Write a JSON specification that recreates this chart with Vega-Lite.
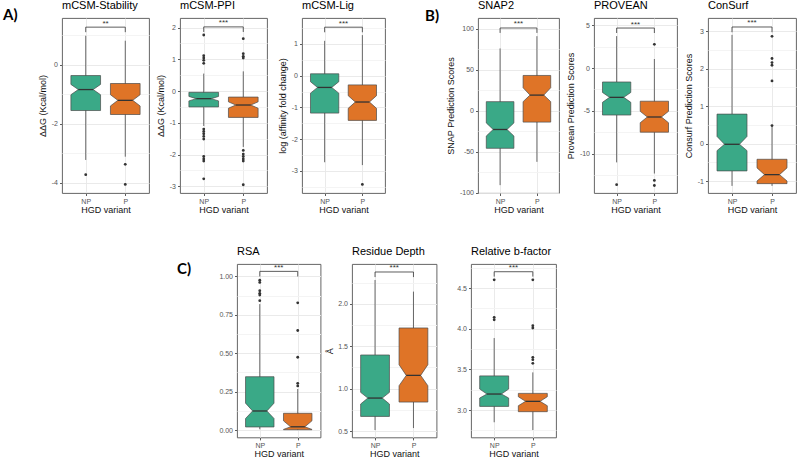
{
"$schema":"https://vega.github.io/schema/vega-lite/v6.json",
"padding":{"left":0,"top":-1,"right":0,"bottom":0},
"background":"white",
"spacing":30,
"config":{
 "view":{"stroke":"#555","strokeWidth":0.9},
 "title":{"font":"Liberation Sans","fontSize":11,"fontWeight":"normal","anchor":"start","frame":"group","baseline":"alphabetic","offset":7,"color":"#000"},
 "axis":{"domain":false,"labelFont":"Liberation Sans","labelFontSize":7,"labelColor":"#555","titleFont":"Liberation Sans","titleFontSize":9,"titleFontWeight":"normal","titleColor":"#111","tickColor":"#333","tickSize":2.5,"tickWidth":0.8,"gridColor":"#e8e8e8","gridWidth":0.9,"labelPadding":1.5,"labelOverlap":false,"tickCount":50},
 "axisX":{"titlePadding":1},
 "axisY":{"titlePadding":3.5,"labelPadding":2}
},
"datasets":{
 "boxes":[
  {"panel":"A1","group":"NP","lo":-3.23,"q1":-1.555,"nlo":-1.02,"med":-0.845,"nhi":-0.67,"q3":-0.37,"hi":0.98},
  {"panel":"A1","group":"P","lo":-3.12,"q1":-1.69,"nlo":-1.40,"med":-1.21,"nhi":-1.02,"q3":-0.64,"hi":0.81},
  {"panel":"A2","group":"NP","lo":-1.10,"q1":-0.50,"nlo":-0.31,"med":-0.24,"nhi":-0.17,"q3":-0.04,"hi":0.55},
  {"panel":"A2","group":"P","lo":-1.76,"q1":-0.83,"nlo":-0.54,"med":-0.44,"nhi":-0.34,"q3":-0.19,"hi":0.62},
  {"panel":"A3","group":"NP","lo":-2.73,"q1":-1.18,"nlo":-0.55,"med":-0.37,"nhi":-0.19,"q3":0.06,"hi":1.10},
  {"panel":"A3","group":"P","lo":-2.82,"q1":-1.41,"nlo":-1.03,"med":-0.83,"nhi":-0.63,"q3":-0.29,"hi":1.28},
  {"panel":"B1","group":"NP","lo":-91,"q1":-46,"nlo":-31,"med":-23,"nhi":-15,"q3":11,"hi":76},
  {"panel":"B1","group":"P","lo":-62.5,"q1":-14,"nlo":11,"med":19,"nhi":28,"q3":43,"hi":91},
  {"panel":"B2","group":"NP","lo":-11.0,"q1":-5.48,"nlo":-4.0,"med":-3.42,"nhi":-2.85,"q3":-1.63,"hi":3.72},
  {"panel":"B2","group":"P","lo":-12.3,"q1":-7.48,"nlo":-6.38,"med":-5.71,"nhi":-5.05,"q3":-3.87,"hi":1.05},
  {"panel":"B3","group":"NP","lo":-1.13,"q1":-0.73,"nlo":-0.19,"med":-0.02,"nhi":0.19,"q3":0.785,"hi":2.9},
  {"panel":"B3","group":"P","lo":-1.13,"q1":-1.07,"nlo":-1.0,"med":-0.83,"nhi":-0.65,"q3":-0.42,"hi":0.47},
  {"panel":"C1","group":"NP","lo":0.005,"q1":0.02,"nlo":0.075,"med":0.124,"nhi":0.175,"q3":0.347,"hi":0.82},
  {"panel":"C1","group":"P","lo":0.0,"q1":0.002,"nlo":0.004,"med":0.021,"nhi":0.06,"q3":0.109,"hi":0.267},
  {"panel":"C2","group":"NP","lo":0.513,"q1":0.674,"nlo":0.82,"med":0.89,"nhi":0.957,"q3":1.397,"hi":2.28},
  {"panel":"C2","group":"P","lo":0.537,"q1":0.843,"nlo":1.035,"med":1.157,"nhi":1.283,"q3":1.715,"hi":2.143},
  {"panel":"C3","group":"NP","lo":2.85,"q1":3.045,"nlo":3.148,"med":3.197,"nhi":3.258,"q3":3.42,"hi":3.885},
  {"panel":"C3","group":"P","lo":2.754,"q1":2.98,"nlo":3.053,"med":3.107,"nhi":3.164,"q3":3.205,"hi":3.463}
 ],
 "outliers":[
  {"panel":"A1","group":"NP","value":-3.73},
  {"panel":"A1","group":"P","value":-3.38},
  {"panel":"A1","group":"P","value":-4.06},
  {"panel":"A2","group":"NP","value":1.765},
  {"panel":"A2","group":"NP","value":1.113},
  {"panel":"A2","group":"NP","value":1.04},
  {"panel":"A2","group":"NP","value":0.966},
  {"panel":"A2","group":"NP","value":0.872},
  {"panel":"A2","group":"NP","value":-1.197},
  {"panel":"A2","group":"NP","value":-1.271},
  {"panel":"A2","group":"NP","value":-1.345},
  {"panel":"A2","group":"NP","value":-1.429},
  {"panel":"A2","group":"NP","value":-1.513},
  {"panel":"A2","group":"NP","value":-2.06},
  {"panel":"A2","group":"NP","value":-2.136},
  {"panel":"A2","group":"NP","value":-2.206},
  {"panel":"A2","group":"NP","value":-2.763},
  {"panel":"A2","group":"P","value":1.649},
  {"panel":"A2","group":"P","value":1.176},
  {"panel":"A2","group":"P","value":1.092},
  {"panel":"A2","group":"P","value":1.04},
  {"panel":"A2","group":"P","value":-1.87},
  {"panel":"A2","group":"P","value":-1.985},
  {"panel":"A2","group":"P","value":-2.06},
  {"panel":"A2","group":"P","value":-2.136},
  {"panel":"A2","group":"P","value":-2.206},
  {"panel":"A2","group":"P","value":-2.95},
  {"panel":"A3","group":"P","value":-3.43},
  {"panel":"B2","group":"NP","value":-13.6},
  {"panel":"B2","group":"P","value":2.76},
  {"panel":"B2","group":"P","value":-13.1},
  {"panel":"B2","group":"P","value":-13.7},
  {"panel":"B3","group":"P","value":2.86},
  {"panel":"B3","group":"P","value":2.27},
  {"panel":"B3","group":"P","value":2.16},
  {"panel":"B3","group":"P","value":2.09},
  {"panel":"B3","group":"P","value":1.67},
  {"panel":"B3","group":"P","value":0.48},
  {"panel":"C1","group":"NP","value":0.976},
  {"panel":"C1","group":"NP","value":0.961},
  {"panel":"C1","group":"NP","value":0.907},
  {"panel":"C1","group":"NP","value":0.89},
  {"panel":"C1","group":"NP","value":0.879},
  {"panel":"C1","group":"NP","value":0.842},
  {"panel":"C1","group":"P","value":0.828},
  {"panel":"C1","group":"P","value":0.648},
  {"panel":"C1","group":"P","value":0.474},
  {"panel":"C1","group":"P","value":0.304},
  {"panel":"C1","group":"P","value":0.287},
  {"panel":"C3","group":"NP","value":4.60},
  {"panel":"C3","group":"NP","value":4.14},
  {"panel":"C3","group":"NP","value":4.11},
  {"panel":"C3","group":"P","value":4.60},
  {"panel":"C3","group":"P","value":4.037},
  {"panel":"C3","group":"P","value":4.008},
  {"panel":"C3","group":"P","value":3.648},
  {"panel":"C3","group":"P","value":3.619},
  {"panel":"C3","group":"P","value":3.574}
 ],
 "signif":[
  {"panel":"A1","y":1.27,"tip":1.10,"label":"**"},
  {"panel":"A2","y":2.02,"tip":1.86,"label":"***"},
  {"panel":"A3","y":1.53,"tip":1.37,"label":"***"},
  {"panel":"B1","y":101,"tip":95,"label":"***"},
  {"panel":"B2","y":4.66,"tip":4.08,"label":"***"},
  {"panel":"B3","y":3.11,"tip":2.97,"label":"***"},
  {"panel":"C1","y":1.033,"tip":1.0,"label":"***"},
  {"panel":"C2","y":2.374,"tip":2.314,"label":"***"},
  {"panel":"C3","y":4.70,"tip":4.64,"label":"***"}
 ]
},
"vconcat":[
{"bounds":"flush","spacing":0,"hconcat":[
 {"width":62,"height":1,"view":{"stroke":null},"title":{"text":"A)","dx":3,"offset":-5,"font":"Lato","fontSize":15,"fontWeight":"bold"},"data":{"values":[]},"mark":"point"},
 {"width":87,"height":175,"title":"mCSM-Stability","layer":[
  {"data":{"name":"boxes"},"transform":[{"filter":"datum.panel === 'A1'"},{"calculate":"datum.group === 'NP' ? 1 : 2","as":"xc"}],"mark":{"type":"rule","color":"#444","strokeWidth":0.8},"encoding":{"x":{"field":"xc","type":"quantitative","scale":{"domain":[0.4,2.6],"nice":false,"zero":false},"axis":{"title":"HGD variant","values":[1,2],"labelExpr":"datum.value === 1 ? 'NP' : 'P'"}},"y":{"field":"lo","type":"quantitative","scale":{"domain":[-4.35,1.58],"nice":false,"zero":false},"axis":{"title":"ΔΔG (Kcal/mol)","tickCount":50,"values":[-4,-3,-2,-1,0,1],"labelExpr":"datum.value % 2 === 0 ? '' + datum.value : ''","tickOpacity":{"condition":{"test":"datum.value % 2 !== 0","value":0},"value":1},"gridColor":{"condition":{"test":"datum.value % 2 !== 0","value":"#f3f3f3"},"value":"#e8e8e8"}}},"y2":{"field":"hi"}}},
  {"data":{"name":"boxes"},"transform":[{"filter":"datum.panel === 'A1'"},{"fold":["q1","nlo","med","nhi","q3"],"as":["stat","v"]},{"calculate":"(datum.group === 'NP' ? 1 : 2) - (datum.stat === 'med' ? 0.1875 : 0.375)","as":"xl"},{"calculate":"(datum.group === 'NP' ? 1 : 2) + (datum.stat === 'med' ? 0.1875 : 0.375)","as":"xr"}],"mark":{"type":"area","orient":"horizontal","stroke":"#4a4a4a","strokeWidth":0.7,"opacity":1,"fillOpacity":1},"encoding":{"y":{"field":"v","type":"quantitative"},"x":{"field":"xl","type":"quantitative","stack":null},"x2":{"field":"xr"},"color":{"field":"group","type":"nominal","scale":{"domain":["NP","P"],"range":["#3aa987","#df7427"]},"legend":null}}},
  {"data":{"name":"boxes"},"transform":[{"filter":"datum.panel === 'A1'"},{"calculate":"(datum.group === 'NP' ? 1 : 2) - 0.1875","as":"ml"},{"calculate":"(datum.group === 'NP' ? 1 : 2) + 0.1875","as":"mr"}],"mark":{"type":"rule","color":"#333","strokeWidth":1.3},"encoding":{"x":{"field":"ml","type":"quantitative"},"x2":{"field":"mr"},"y":{"field":"med","type":"quantitative"}}},
  {"data":{"name":"outliers"},"transform":[{"filter":"datum.panel === 'A1'"},{"calculate":"datum.group === 'NP' ? 1 : 2","as":"xc"}],"mark":{"type":"point","filled":true,"size":8,"color":"#333","opacity":1},"encoding":{"x":{"field":"xc","type":"quantitative"},"y":{"field":"value","type":"quantitative"}}},
  {"data":{"name":"signif"},"transform":[{"filter":"datum.panel === 'A1'"}],"mark":{"type":"rule","color":"#333","strokeWidth":0.8},"encoding":{"x":{"datum":1,"type":"quantitative"},"x2":{"datum":2},"y":{"field":"y","type":"quantitative"}}},
  {"data":{"name":"signif"},"transform":[{"filter":"datum.panel === 'A1'"}],"mark":{"type":"rule","color":"#333","strokeWidth":0.8},"encoding":{"x":{"datum":1,"type":"quantitative"},"y":{"field":"y","type":"quantitative"},"y2":{"field":"tip"}}},
  {"data":{"name":"signif"},"transform":[{"filter":"datum.panel === 'A1'"}],"mark":{"type":"rule","color":"#333","strokeWidth":0.8},"encoding":{"x":{"datum":2,"type":"quantitative"},"y":{"field":"y","type":"quantitative"},"y2":{"field":"tip"}}},
  {"data":{"name":"signif"},"transform":[{"filter":"datum.panel === 'A1'"}],"mark":{"type":"text","baseline":"alphabetic","dy":-1.5,"fontSize":8,"color":"#333","font":"Liberation Sans"},"encoding":{"x":{"datum":1.5,"type":"quantitative"},"y":{"field":"y","type":"quantitative"},"text":{"field":"label"}}}
 ]},
 {"width":31,"height":1,"view":{"stroke":null},"data":{"values":[]},"mark":"point"},
 {"width":87,"height":175,"title":"mCSM-PPI","layer":[
  {"data":{"name":"boxes"},"transform":[{"filter":"datum.panel === 'A2'"},{"calculate":"datum.group === 'NP' ? 1 : 2","as":"xc"}],"mark":{"type":"rule","color":"#444","strokeWidth":0.8},"encoding":{"x":{"field":"xc","type":"quantitative","scale":{"domain":[0.4,2.6],"nice":false,"zero":false},"axis":{"title":"HGD variant","values":[1,2],"labelExpr":"datum.value === 1 ? 'NP' : 'P'"}},"y":{"field":"lo","type":"quantitative","scale":{"domain":[-3.21,2.30],"nice":false,"zero":false},"axis":{"title":"ΔΔG (Kcal/mol)","tickCount":50,"values":[-3,-2.5,-2,-1.5,-1,-0.5,0,0.5,1,1.5,2],"labelExpr":"datum.value % 1 === 0 ? '' + datum.value : ''","tickOpacity":{"condition":{"test":"datum.value % 1 !== 0","value":0},"value":1},"gridColor":{"condition":{"test":"datum.value % 1 !== 0","value":"#f3f3f3"},"value":"#e8e8e8"}}},"y2":{"field":"hi"}}},
  {"data":{"name":"boxes"},"transform":[{"filter":"datum.panel === 'A2'"},{"fold":["q1","nlo","med","nhi","q3"],"as":["stat","v"]},{"calculate":"(datum.group === 'NP' ? 1 : 2) - (datum.stat === 'med' ? 0.1875 : 0.375)","as":"xl"},{"calculate":"(datum.group === 'NP' ? 1 : 2) + (datum.stat === 'med' ? 0.1875 : 0.375)","as":"xr"}],"mark":{"type":"area","orient":"horizontal","stroke":"#4a4a4a","strokeWidth":0.7,"opacity":1,"fillOpacity":1},"encoding":{"y":{"field":"v","type":"quantitative"},"x":{"field":"xl","type":"quantitative","stack":null},"x2":{"field":"xr"},"color":{"field":"group","type":"nominal","scale":{"domain":["NP","P"],"range":["#3aa987","#df7427"]},"legend":null}}},
  {"data":{"name":"boxes"},"transform":[{"filter":"datum.panel === 'A2'"},{"calculate":"(datum.group === 'NP' ? 1 : 2) - 0.1875","as":"ml"},{"calculate":"(datum.group === 'NP' ? 1 : 2) + 0.1875","as":"mr"}],"mark":{"type":"rule","color":"#333","strokeWidth":1.3},"encoding":{"x":{"field":"ml","type":"quantitative"},"x2":{"field":"mr"},"y":{"field":"med","type":"quantitative"}}},
  {"data":{"name":"outliers"},"transform":[{"filter":"datum.panel === 'A2'"},{"calculate":"datum.group === 'NP' ? 1 : 2","as":"xc"}],"mark":{"type":"point","filled":true,"size":8,"color":"#333","opacity":1},"encoding":{"x":{"field":"xc","type":"quantitative"},"y":{"field":"value","type":"quantitative"}}},
  {"data":{"name":"signif"},"transform":[{"filter":"datum.panel === 'A2'"}],"mark":{"type":"rule","color":"#333","strokeWidth":0.8},"encoding":{"x":{"datum":1,"type":"quantitative"},"x2":{"datum":2},"y":{"field":"y","type":"quantitative"}}},
  {"data":{"name":"signif"},"transform":[{"filter":"datum.panel === 'A2'"}],"mark":{"type":"rule","color":"#333","strokeWidth":0.8},"encoding":{"x":{"datum":1,"type":"quantitative"},"y":{"field":"y","type":"quantitative"},"y2":{"field":"tip"}}},
  {"data":{"name":"signif"},"transform":[{"filter":"datum.panel === 'A2'"}],"mark":{"type":"rule","color":"#333","strokeWidth":0.8},"encoding":{"x":{"datum":2,"type":"quantitative"},"y":{"field":"y","type":"quantitative"},"y2":{"field":"tip"}}},
  {"data":{"name":"signif"},"transform":[{"filter":"datum.panel === 'A2'"}],"mark":{"type":"text","baseline":"alphabetic","dy":-1.5,"fontSize":8,"color":"#333","font":"Liberation Sans"},"encoding":{"x":{"datum":1.5,"type":"quantitative"},"y":{"field":"y","type":"quantitative"},"text":{"field":"label"}}}
 ]},
 {"width":35,"height":1,"view":{"stroke":null},"data":{"values":[]},"mark":"point"},
 {"width":83,"height":175,"title":"mCSM-Lig","layer":[
  {"data":{"name":"boxes"},"transform":[{"filter":"datum.panel === 'A3'"},{"calculate":"datum.group === 'NP' ? 1 : 2","as":"xc"}],"mark":{"type":"rule","color":"#444","strokeWidth":0.8},"encoding":{"x":{"field":"xc","type":"quantitative","scale":{"domain":[0.4,2.6],"nice":false,"zero":false},"axis":{"title":"HGD variant","values":[1,2],"labelExpr":"datum.value === 1 ? 'NP' : 'P'"}},"y":{"field":"lo","type":"quantitative","scale":{"domain":[-3.70,1.82],"nice":false,"zero":false},"axis":{"title":"log (affinity fold change)","tickCount":50,"values":[-3.5,-3,-2.5,-2,-1.5,-1,-0.5,0,0.5,1,1.5],"labelExpr":"datum.value % 1 === 0 ? '' + datum.value : ''","tickOpacity":{"condition":{"test":"datum.value % 1 !== 0","value":0},"value":1},"gridColor":{"condition":{"test":"datum.value % 1 !== 0","value":"#f3f3f3"},"value":"#e8e8e8"}}},"y2":{"field":"hi"}}},
  {"data":{"name":"boxes"},"transform":[{"filter":"datum.panel === 'A3'"},{"fold":["q1","nlo","med","nhi","q3"],"as":["stat","v"]},{"calculate":"(datum.group === 'NP' ? 1 : 2) - (datum.stat === 'med' ? 0.1875 : 0.375)","as":"xl"},{"calculate":"(datum.group === 'NP' ? 1 : 2) + (datum.stat === 'med' ? 0.1875 : 0.375)","as":"xr"}],"mark":{"type":"area","orient":"horizontal","stroke":"#4a4a4a","strokeWidth":0.7,"opacity":1,"fillOpacity":1},"encoding":{"y":{"field":"v","type":"quantitative"},"x":{"field":"xl","type":"quantitative","stack":null},"x2":{"field":"xr"},"color":{"field":"group","type":"nominal","scale":{"domain":["NP","P"],"range":["#3aa987","#df7427"]},"legend":null}}},
  {"data":{"name":"boxes"},"transform":[{"filter":"datum.panel === 'A3'"},{"calculate":"(datum.group === 'NP' ? 1 : 2) - 0.1875","as":"ml"},{"calculate":"(datum.group === 'NP' ? 1 : 2) + 0.1875","as":"mr"}],"mark":{"type":"rule","color":"#333","strokeWidth":1.3},"encoding":{"x":{"field":"ml","type":"quantitative"},"x2":{"field":"mr"},"y":{"field":"med","type":"quantitative"}}},
  {"data":{"name":"outliers"},"transform":[{"filter":"datum.panel === 'A3'"},{"calculate":"datum.group === 'NP' ? 1 : 2","as":"xc"}],"mark":{"type":"point","filled":true,"size":8,"color":"#333","opacity":1},"encoding":{"x":{"field":"xc","type":"quantitative"},"y":{"field":"value","type":"quantitative"}}},
  {"data":{"name":"signif"},"transform":[{"filter":"datum.panel === 'A3'"}],"mark":{"type":"rule","color":"#333","strokeWidth":0.8},"encoding":{"x":{"datum":1,"type":"quantitative"},"x2":{"datum":2},"y":{"field":"y","type":"quantitative"}}},
  {"data":{"name":"signif"},"transform":[{"filter":"datum.panel === 'A3'"}],"mark":{"type":"rule","color":"#333","strokeWidth":0.8},"encoding":{"x":{"datum":1,"type":"quantitative"},"y":{"field":"y","type":"quantitative"},"y2":{"field":"tip"}}},
  {"data":{"name":"signif"},"transform":[{"filter":"datum.panel === 'A3'"}],"mark":{"type":"rule","color":"#333","strokeWidth":0.8},"encoding":{"x":{"datum":2,"type":"quantitative"},"y":{"field":"y","type":"quantitative"},"y2":{"field":"tip"}}},
  {"data":{"name":"signif"},"transform":[{"filter":"datum.panel === 'A3'"}],"mark":{"type":"text","baseline":"alphabetic","dy":-1.5,"fontSize":8,"color":"#333","font":"Liberation Sans"},"encoding":{"x":{"datum":1.5,"type":"quantitative"},"y":{"field":"y","type":"quantitative"},"text":{"field":"label"}}}
 ]},
 {"width":93,"height":1,"view":{"stroke":null},"title":{"text":"B)","dx":40,"offset":-5.5,"font":"Lato","fontSize":15,"fontWeight":"bold"},"data":{"values":[]},"mark":"point"},
 {"width":81,"height":175,"title":"SNAP2","layer":[
  {"data":{"name":"boxes"},"transform":[{"filter":"datum.panel === 'B1'"},{"calculate":"datum.group === 'NP' ? 1 : 2","as":"xc"}],"mark":{"type":"rule","color":"#444","strokeWidth":0.8},"encoding":{"x":{"field":"xc","type":"quantitative","scale":{"domain":[0.4,2.6],"nice":false,"zero":false},"axis":{"title":"HGD variant","values":[1,2],"labelExpr":"datum.value === 1 ? 'NP' : 'P'"}},"y":{"field":"lo","type":"quantitative","scale":{"domain":[-100.6,113.2],"nice":false,"zero":false},"axis":{"title":"SNAP Prediction Scores","tickCount":50,"values":[-100,-75,-50,-25,0,25,50,75,100],"labelExpr":"datum.value % 50 === 0 ? '' + datum.value : ''","tickOpacity":{"condition":{"test":"datum.value % 50 !== 0","value":0},"value":1},"gridColor":{"condition":{"test":"datum.value % 50 !== 0","value":"#f3f3f3"},"value":"#e8e8e8"}}},"y2":{"field":"hi"}}},
  {"data":{"name":"boxes"},"transform":[{"filter":"datum.panel === 'B1'"},{"fold":["q1","nlo","med","nhi","q3"],"as":["stat","v"]},{"calculate":"(datum.group === 'NP' ? 1 : 2) - (datum.stat === 'med' ? 0.1875 : 0.375)","as":"xl"},{"calculate":"(datum.group === 'NP' ? 1 : 2) + (datum.stat === 'med' ? 0.1875 : 0.375)","as":"xr"}],"mark":{"type":"area","orient":"horizontal","stroke":"#4a4a4a","strokeWidth":0.7,"opacity":1,"fillOpacity":1},"encoding":{"y":{"field":"v","type":"quantitative"},"x":{"field":"xl","type":"quantitative","stack":null},"x2":{"field":"xr"},"color":{"field":"group","type":"nominal","scale":{"domain":["NP","P"],"range":["#3aa987","#df7427"]},"legend":null}}},
  {"data":{"name":"boxes"},"transform":[{"filter":"datum.panel === 'B1'"},{"calculate":"(datum.group === 'NP' ? 1 : 2) - 0.1875","as":"ml"},{"calculate":"(datum.group === 'NP' ? 1 : 2) + 0.1875","as":"mr"}],"mark":{"type":"rule","color":"#333","strokeWidth":1.3},"encoding":{"x":{"field":"ml","type":"quantitative"},"x2":{"field":"mr"},"y":{"field":"med","type":"quantitative"}}},
  {"data":{"name":"signif"},"transform":[{"filter":"datum.panel === 'B1'"}],"mark":{"type":"rule","color":"#333","strokeWidth":0.8},"encoding":{"x":{"datum":1,"type":"quantitative"},"x2":{"datum":2},"y":{"field":"y","type":"quantitative"}}},
  {"data":{"name":"signif"},"transform":[{"filter":"datum.panel === 'B1'"}],"mark":{"type":"rule","color":"#333","strokeWidth":0.8},"encoding":{"x":{"datum":1,"type":"quantitative"},"y":{"field":"y","type":"quantitative"},"y2":{"field":"tip"}}},
  {"data":{"name":"signif"},"transform":[{"filter":"datum.panel === 'B1'"}],"mark":{"type":"rule","color":"#333","strokeWidth":0.8},"encoding":{"x":{"datum":2,"type":"quantitative"},"y":{"field":"y","type":"quantitative"},"y2":{"field":"tip"}}},
  {"data":{"name":"signif"},"transform":[{"filter":"datum.panel === 'B1'"}],"mark":{"type":"text","baseline":"alphabetic","dy":-1.5,"fontSize":8,"color":"#333","font":"Liberation Sans"},"encoding":{"x":{"datum":1.5,"type":"quantitative"},"y":{"field":"y","type":"quantitative"},"text":{"field":"label"}}}
 ]},
 {"width":35,"height":1,"view":{"stroke":null},"data":{"values":[]},"mark":"point"},
 {"width":83,"height":175,"title":"PROVEAN","layer":[
  {"data":{"name":"boxes"},"transform":[{"filter":"datum.panel === 'B2'"},{"calculate":"datum.group === 'NP' ? 1 : 2","as":"xc"}],"mark":{"type":"rule","color":"#444","strokeWidth":0.8},"encoding":{"x":{"field":"xc","type":"quantitative","scale":{"domain":[0.4,2.6],"nice":false,"zero":false},"axis":{"title":"HGD variant","values":[1,2],"labelExpr":"datum.value === 1 ? 'NP' : 'P'"}},"y":{"field":"lo","type":"quantitative","scale":{"domain":[-14.57,5.83],"nice":false,"zero":false},"axis":{"title":"Provean Prediction Scores","tickCount":50,"values":[-12.5,-10,-7.5,-5,-2.5,0,2.5,5],"labelExpr":"datum.value % 5 === 0 ? '' + datum.value : ''","tickOpacity":{"condition":{"test":"datum.value % 5 !== 0","value":0},"value":1},"gridColor":{"condition":{"test":"datum.value % 5 !== 0","value":"#f3f3f3"},"value":"#e8e8e8"}}},"y2":{"field":"hi"}}},
  {"data":{"name":"boxes"},"transform":[{"filter":"datum.panel === 'B2'"},{"fold":["q1","nlo","med","nhi","q3"],"as":["stat","v"]},{"calculate":"(datum.group === 'NP' ? 1 : 2) - (datum.stat === 'med' ? 0.1875 : 0.375)","as":"xl"},{"calculate":"(datum.group === 'NP' ? 1 : 2) + (datum.stat === 'med' ? 0.1875 : 0.375)","as":"xr"}],"mark":{"type":"area","orient":"horizontal","stroke":"#4a4a4a","strokeWidth":0.7,"opacity":1,"fillOpacity":1},"encoding":{"y":{"field":"v","type":"quantitative"},"x":{"field":"xl","type":"quantitative","stack":null},"x2":{"field":"xr"},"color":{"field":"group","type":"nominal","scale":{"domain":["NP","P"],"range":["#3aa987","#df7427"]},"legend":null}}},
  {"data":{"name":"boxes"},"transform":[{"filter":"datum.panel === 'B2'"},{"calculate":"(datum.group === 'NP' ? 1 : 2) - 0.1875","as":"ml"},{"calculate":"(datum.group === 'NP' ? 1 : 2) + 0.1875","as":"mr"}],"mark":{"type":"rule","color":"#333","strokeWidth":1.3},"encoding":{"x":{"field":"ml","type":"quantitative"},"x2":{"field":"mr"},"y":{"field":"med","type":"quantitative"}}},
  {"data":{"name":"outliers"},"transform":[{"filter":"datum.panel === 'B2'"},{"calculate":"datum.group === 'NP' ? 1 : 2","as":"xc"}],"mark":{"type":"point","filled":true,"size":8,"color":"#333","opacity":1},"encoding":{"x":{"field":"xc","type":"quantitative"},"y":{"field":"value","type":"quantitative"}}},
  {"data":{"name":"signif"},"transform":[{"filter":"datum.panel === 'B2'"}],"mark":{"type":"rule","color":"#333","strokeWidth":0.8},"encoding":{"x":{"datum":1,"type":"quantitative"},"x2":{"datum":2},"y":{"field":"y","type":"quantitative"}}},
  {"data":{"name":"signif"},"transform":[{"filter":"datum.panel === 'B2'"}],"mark":{"type":"rule","color":"#333","strokeWidth":0.8},"encoding":{"x":{"datum":1,"type":"quantitative"},"y":{"field":"y","type":"quantitative"},"y2":{"field":"tip"}}},
  {"data":{"name":"signif"},"transform":[{"filter":"datum.panel === 'B2'"}],"mark":{"type":"rule","color":"#333","strokeWidth":0.8},"encoding":{"x":{"datum":2,"type":"quantitative"},"y":{"field":"y","type":"quantitative"},"y2":{"field":"tip"}}},
  {"data":{"name":"signif"},"transform":[{"filter":"datum.panel === 'B2'"}],"mark":{"type":"text","baseline":"alphabetic","dy":-1.5,"fontSize":8,"color":"#333","font":"Liberation Sans"},"encoding":{"x":{"datum":1.5,"type":"quantitative"},"y":{"field":"y","type":"quantitative"},"text":{"field":"label"}}}
 ]},
 {"width":31,"height":1,"view":{"stroke":null},"data":{"values":[]},"mark":"point"},
 {"width":88,"height":175,"title":"ConSurf","layer":[
  {"data":{"name":"boxes"},"transform":[{"filter":"datum.panel === 'B3'"},{"calculate":"datum.group === 'NP' ? 1 : 2","as":"xc"}],"mark":{"type":"rule","color":"#444","strokeWidth":0.8},"encoding":{"x":{"field":"xc","type":"quantitative","scale":{"domain":[0.4,2.6],"nice":false,"zero":false},"axis":{"title":"HGD variant","values":[1,2],"labelExpr":"datum.value === 1 ? 'NP' : 'P'"}},"y":{"field":"lo","type":"quantitative","scale":{"domain":[-1.32,3.35],"nice":false,"zero":false},"axis":{"title":"Consurf Prediction Scores","tickCount":50,"values":[-1,-0.5,0,0.5,1,1.5,2,2.5,3],"labelExpr":"datum.value % 1 === 0 ? '' + datum.value : ''","tickOpacity":{"condition":{"test":"datum.value % 1 !== 0","value":0},"value":1},"gridColor":{"condition":{"test":"datum.value % 1 !== 0","value":"#f3f3f3"},"value":"#e8e8e8"}}},"y2":{"field":"hi"}}},
  {"data":{"name":"boxes"},"transform":[{"filter":"datum.panel === 'B3'"},{"fold":["q1","nlo","med","nhi","q3"],"as":["stat","v"]},{"calculate":"(datum.group === 'NP' ? 1 : 2) - (datum.stat === 'med' ? 0.1875 : 0.375)","as":"xl"},{"calculate":"(datum.group === 'NP' ? 1 : 2) + (datum.stat === 'med' ? 0.1875 : 0.375)","as":"xr"}],"mark":{"type":"area","orient":"horizontal","stroke":"#4a4a4a","strokeWidth":0.7,"opacity":1,"fillOpacity":1},"encoding":{"y":{"field":"v","type":"quantitative"},"x":{"field":"xl","type":"quantitative","stack":null},"x2":{"field":"xr"},"color":{"field":"group","type":"nominal","scale":{"domain":["NP","P"],"range":["#3aa987","#df7427"]},"legend":null}}},
  {"data":{"name":"boxes"},"transform":[{"filter":"datum.panel === 'B3'"},{"calculate":"(datum.group === 'NP' ? 1 : 2) - 0.1875","as":"ml"},{"calculate":"(datum.group === 'NP' ? 1 : 2) + 0.1875","as":"mr"}],"mark":{"type":"rule","color":"#333","strokeWidth":1.3},"encoding":{"x":{"field":"ml","type":"quantitative"},"x2":{"field":"mr"},"y":{"field":"med","type":"quantitative"}}},
  {"data":{"name":"outliers"},"transform":[{"filter":"datum.panel === 'B3'"},{"calculate":"datum.group === 'NP' ? 1 : 2","as":"xc"}],"mark":{"type":"point","filled":true,"size":8,"color":"#333","opacity":1},"encoding":{"x":{"field":"xc","type":"quantitative"},"y":{"field":"value","type":"quantitative"}}},
  {"data":{"name":"signif"},"transform":[{"filter":"datum.panel === 'B3'"}],"mark":{"type":"rule","color":"#333","strokeWidth":0.8},"encoding":{"x":{"datum":1,"type":"quantitative"},"x2":{"datum":2},"y":{"field":"y","type":"quantitative"}}},
  {"data":{"name":"signif"},"transform":[{"filter":"datum.panel === 'B3'"}],"mark":{"type":"rule","color":"#333","strokeWidth":0.8},"encoding":{"x":{"datum":1,"type":"quantitative"},"y":{"field":"y","type":"quantitative"},"y2":{"field":"tip"}}},
  {"data":{"name":"signif"},"transform":[{"filter":"datum.panel === 'B3'"}],"mark":{"type":"rule","color":"#333","strokeWidth":0.8},"encoding":{"x":{"datum":2,"type":"quantitative"},"y":{"field":"y","type":"quantitative"},"y2":{"field":"tip"}}},
  {"data":{"name":"signif"},"transform":[{"filter":"datum.panel === 'B3'"}],"mark":{"type":"text","baseline":"alphabetic","dy":-1.5,"fontSize":8,"color":"#333","font":"Liberation Sans"},"encoding":{"x":{"datum":1.5,"type":"quantitative"},"y":{"field":"y","type":"quantitative"},"text":{"field":"label"}}}
 ]}
]},
{"bounds":"flush","spacing":0,"hconcat":[
 {"width":236.5,"height":1,"view":{"stroke":null},"title":{"text":"C)","dx":177,"offset":-12.5,"font":"Lato","fontSize":15,"fontWeight":"bold"},"data":{"values":[]},"mark":"point"},
 {"width":83.5,"height":173.4,"title":"RSA","layer":[
  {"data":{"name":"boxes"},"transform":[{"filter":"datum.panel === 'C1'"},{"calculate":"datum.group === 'NP' ? 1 : 2","as":"xc"}],"mark":{"type":"rule","color":"#444","strokeWidth":0.8},"encoding":{"x":{"field":"xc","type":"quantitative","scale":{"domain":[0.4,2.6],"nice":false,"zero":false},"axis":{"title":"HGD variant","values":[1,2],"labelExpr":"datum.value === 1 ? 'NP' : 'P'"}},"y":{"field":"lo","type":"quantitative","scale":{"domain":[-0.048,1.081],"nice":false,"zero":false},"axis":{"title":null,"tickCount":50,"values":[0,0.125,0.25,0.375,0.5,0.625,0.75,0.875,1],"labelExpr":"datum.value % 0.25 === 0 ? format(datum.value, '.2f') : ''","tickOpacity":{"condition":{"test":"datum.value % 0.25 !== 0","value":0},"value":1},"gridColor":{"condition":{"test":"datum.value % 0.25 !== 0","value":"#f3f3f3"},"value":"#e8e8e8"}}},"y2":{"field":"hi"}}},
  {"data":{"name":"boxes"},"transform":[{"filter":"datum.panel === 'C1'"},{"fold":["q1","nlo","med","nhi","q3"],"as":["stat","v"]},{"calculate":"(datum.group === 'NP' ? 1 : 2) - (datum.stat === 'med' ? 0.1875 : 0.375)","as":"xl"},{"calculate":"(datum.group === 'NP' ? 1 : 2) + (datum.stat === 'med' ? 0.1875 : 0.375)","as":"xr"}],"mark":{"type":"area","orient":"horizontal","stroke":"#4a4a4a","strokeWidth":0.7,"opacity":1,"fillOpacity":1},"encoding":{"y":{"field":"v","type":"quantitative"},"x":{"field":"xl","type":"quantitative","stack":null},"x2":{"field":"xr"},"color":{"field":"group","type":"nominal","scale":{"domain":["NP","P"],"range":["#3aa987","#df7427"]},"legend":null}}},
  {"data":{"name":"boxes"},"transform":[{"filter":"datum.panel === 'C1'"},{"calculate":"(datum.group === 'NP' ? 1 : 2) - 0.1875","as":"ml"},{"calculate":"(datum.group === 'NP' ? 1 : 2) + 0.1875","as":"mr"}],"mark":{"type":"rule","color":"#333","strokeWidth":1.3},"encoding":{"x":{"field":"ml","type":"quantitative"},"x2":{"field":"mr"},"y":{"field":"med","type":"quantitative"}}},
  {"data":{"name":"outliers"},"transform":[{"filter":"datum.panel === 'C1'"},{"calculate":"datum.group === 'NP' ? 1 : 2","as":"xc"}],"mark":{"type":"point","filled":true,"size":8,"color":"#333","opacity":1},"encoding":{"x":{"field":"xc","type":"quantitative"},"y":{"field":"value","type":"quantitative"}}},
  {"data":{"name":"signif"},"transform":[{"filter":"datum.panel === 'C1'"}],"mark":{"type":"rule","color":"#333","strokeWidth":0.8},"encoding":{"x":{"datum":1,"type":"quantitative"},"x2":{"datum":2},"y":{"field":"y","type":"quantitative"}}},
  {"data":{"name":"signif"},"transform":[{"filter":"datum.panel === 'C1'"}],"mark":{"type":"rule","color":"#333","strokeWidth":0.8},"encoding":{"x":{"datum":1,"type":"quantitative"},"y":{"field":"y","type":"quantitative"},"y2":{"field":"tip"}}},
  {"data":{"name":"signif"},"transform":[{"filter":"datum.panel === 'C1'"}],"mark":{"type":"rule","color":"#333","strokeWidth":0.8},"encoding":{"x":{"datum":2,"type":"quantitative"},"y":{"field":"y","type":"quantitative"},"y2":{"field":"tip"}}},
  {"data":{"name":"signif"},"transform":[{"filter":"datum.panel === 'C1'"}],"mark":{"type":"text","baseline":"alphabetic","dy":-1.5,"fontSize":8,"color":"#333","font":"Liberation Sans"},"encoding":{"x":{"datum":1.5,"type":"quantitative"},"y":{"field":"y","type":"quantitative"},"text":{"field":"label"}}}
 ]},
 {"width":30.5,"height":1,"view":{"stroke":null},"data":{"values":[]},"mark":"point"},
 {"width":84.5,"height":173.4,"title":"Residue Depth","layer":[
  {"data":{"name":"boxes"},"transform":[{"filter":"datum.panel === 'C2'"},{"calculate":"datum.group === 'NP' ? 1 : 2","as":"xc"}],"mark":{"type":"rule","color":"#444","strokeWidth":0.8},"encoding":{"x":{"field":"xc","type":"quantitative","scale":{"domain":[0.4,2.6],"nice":false,"zero":false},"axis":{"title":"HGD variant","values":[1,2],"labelExpr":"datum.value === 1 ? 'NP' : 'P'"}},"y":{"field":"lo","type":"quantitative","scale":{"domain":[0.427,2.468],"nice":false,"zero":false},"axis":{"title":"Å","tickCount":50,"values":[0.5,0.75,1,1.25,1.5,1.75,2,2.25],"labelExpr":"datum.value % 0.5 === 0 ? format(datum.value, '.1f') : ''","tickOpacity":{"condition":{"test":"datum.value % 0.5 !== 0","value":0},"value":1},"gridColor":{"condition":{"test":"datum.value % 0.5 !== 0","value":"#f3f3f3"},"value":"#e8e8e8"}}},"y2":{"field":"hi"}}},
  {"data":{"name":"boxes"},"transform":[{"filter":"datum.panel === 'C2'"},{"fold":["q1","nlo","med","nhi","q3"],"as":["stat","v"]},{"calculate":"(datum.group === 'NP' ? 1 : 2) - (datum.stat === 'med' ? 0.1875 : 0.375)","as":"xl"},{"calculate":"(datum.group === 'NP' ? 1 : 2) + (datum.stat === 'med' ? 0.1875 : 0.375)","as":"xr"}],"mark":{"type":"area","orient":"horizontal","stroke":"#4a4a4a","strokeWidth":0.7,"opacity":1,"fillOpacity":1},"encoding":{"y":{"field":"v","type":"quantitative"},"x":{"field":"xl","type":"quantitative","stack":null},"x2":{"field":"xr"},"color":{"field":"group","type":"nominal","scale":{"domain":["NP","P"],"range":["#3aa987","#df7427"]},"legend":null}}},
  {"data":{"name":"boxes"},"transform":[{"filter":"datum.panel === 'C2'"},{"calculate":"(datum.group === 'NP' ? 1 : 2) - 0.1875","as":"ml"},{"calculate":"(datum.group === 'NP' ? 1 : 2) + 0.1875","as":"mr"}],"mark":{"type":"rule","color":"#333","strokeWidth":1.3},"encoding":{"x":{"field":"ml","type":"quantitative"},"x2":{"field":"mr"},"y":{"field":"med","type":"quantitative"}}},
  {"data":{"name":"signif"},"transform":[{"filter":"datum.panel === 'C2'"}],"mark":{"type":"rule","color":"#333","strokeWidth":0.8},"encoding":{"x":{"datum":1,"type":"quantitative"},"x2":{"datum":2},"y":{"field":"y","type":"quantitative"}}},
  {"data":{"name":"signif"},"transform":[{"filter":"datum.panel === 'C2'"}],"mark":{"type":"rule","color":"#333","strokeWidth":0.8},"encoding":{"x":{"datum":1,"type":"quantitative"},"y":{"field":"y","type":"quantitative"},"y2":{"field":"tip"}}},
  {"data":{"name":"signif"},"transform":[{"filter":"datum.panel === 'C2'"}],"mark":{"type":"rule","color":"#333","strokeWidth":0.8},"encoding":{"x":{"datum":2,"type":"quantitative"},"y":{"field":"y","type":"quantitative"},"y2":{"field":"tip"}}},
  {"data":{"name":"signif"},"transform":[{"filter":"datum.panel === 'C2'"}],"mark":{"type":"text","baseline":"alphabetic","dy":-1.5,"fontSize":8,"color":"#333","font":"Liberation Sans"},"encoding":{"x":{"datum":1.5,"type":"quantitative"},"y":{"field":"y","type":"quantitative"},"text":{"field":"label"}}}
 ]},
 {"width":34,"height":1,"view":{"stroke":null},"data":{"values":[]},"mark":"point"},
 {"width":85,"height":173.4,"title":"Relative b-factor","layer":[
  {"data":{"name":"boxes"},"transform":[{"filter":"datum.panel === 'C3'"},{"calculate":"datum.group === 'NP' ? 1 : 2","as":"xc"}],"mark":{"type":"rule","color":"#444","strokeWidth":0.8},"encoding":{"x":{"field":"xc","type":"quantitative","scale":{"domain":[0.4,2.6],"nice":false,"zero":false},"axis":{"title":"HGD variant","values":[1,2],"labelExpr":"datum.value === 1 ? 'NP' : 'P'"}},"y":{"field":"lo","type":"quantitative","scale":{"domain":[2.664,4.795],"nice":false,"zero":false},"axis":{"title":null,"tickCount":50,"values":[2.75,3,3.25,3.5,3.75,4,4.25,4.5,4.75],"labelExpr":"datum.value % 0.5 === 0 ? format(datum.value, '.1f') : ''","tickOpacity":{"condition":{"test":"datum.value % 0.5 !== 0","value":0},"value":1},"gridColor":{"condition":{"test":"datum.value % 0.5 !== 0","value":"#f3f3f3"},"value":"#e8e8e8"}}},"y2":{"field":"hi"}}},
  {"data":{"name":"boxes"},"transform":[{"filter":"datum.panel === 'C3'"},{"fold":["q1","nlo","med","nhi","q3"],"as":["stat","v"]},{"calculate":"(datum.group === 'NP' ? 1 : 2) - (datum.stat === 'med' ? 0.1875 : 0.375)","as":"xl"},{"calculate":"(datum.group === 'NP' ? 1 : 2) + (datum.stat === 'med' ? 0.1875 : 0.375)","as":"xr"}],"mark":{"type":"area","orient":"horizontal","stroke":"#4a4a4a","strokeWidth":0.7,"opacity":1,"fillOpacity":1},"encoding":{"y":{"field":"v","type":"quantitative"},"x":{"field":"xl","type":"quantitative","stack":null},"x2":{"field":"xr"},"color":{"field":"group","type":"nominal","scale":{"domain":["NP","P"],"range":["#3aa987","#df7427"]},"legend":null}}},
  {"data":{"name":"boxes"},"transform":[{"filter":"datum.panel === 'C3'"},{"calculate":"(datum.group === 'NP' ? 1 : 2) - 0.1875","as":"ml"},{"calculate":"(datum.group === 'NP' ? 1 : 2) + 0.1875","as":"mr"}],"mark":{"type":"rule","color":"#333","strokeWidth":1.3},"encoding":{"x":{"field":"ml","type":"quantitative"},"x2":{"field":"mr"},"y":{"field":"med","type":"quantitative"}}},
  {"data":{"name":"outliers"},"transform":[{"filter":"datum.panel === 'C3'"},{"calculate":"datum.group === 'NP' ? 1 : 2","as":"xc"}],"mark":{"type":"point","filled":true,"size":8,"color":"#333","opacity":1},"encoding":{"x":{"field":"xc","type":"quantitative"},"y":{"field":"value","type":"quantitative"}}},
  {"data":{"name":"signif"},"transform":[{"filter":"datum.panel === 'C3'"}],"mark":{"type":"rule","color":"#333","strokeWidth":0.8},"encoding":{"x":{"datum":1,"type":"quantitative"},"x2":{"datum":2},"y":{"field":"y","type":"quantitative"}}},
  {"data":{"name":"signif"},"transform":[{"filter":"datum.panel === 'C3'"}],"mark":{"type":"rule","color":"#333","strokeWidth":0.8},"encoding":{"x":{"datum":1,"type":"quantitative"},"y":{"field":"y","type":"quantitative"},"y2":{"field":"tip"}}},
  {"data":{"name":"signif"},"transform":[{"filter":"datum.panel === 'C3'"}],"mark":{"type":"rule","color":"#333","strokeWidth":0.8},"encoding":{"x":{"datum":2,"type":"quantitative"},"y":{"field":"y","type":"quantitative"},"y2":{"field":"tip"}}},
  {"data":{"name":"signif"},"transform":[{"filter":"datum.panel === 'C3'"}],"mark":{"type":"text","baseline":"alphabetic","dy":-1.5,"fontSize":8,"color":"#333","font":"Liberation Sans"},"encoding":{"x":{"datum":1.5,"type":"quantitative"},"y":{"field":"y","type":"quantitative"},"text":{"field":"label"}}}
 ]}
]}
]
}
